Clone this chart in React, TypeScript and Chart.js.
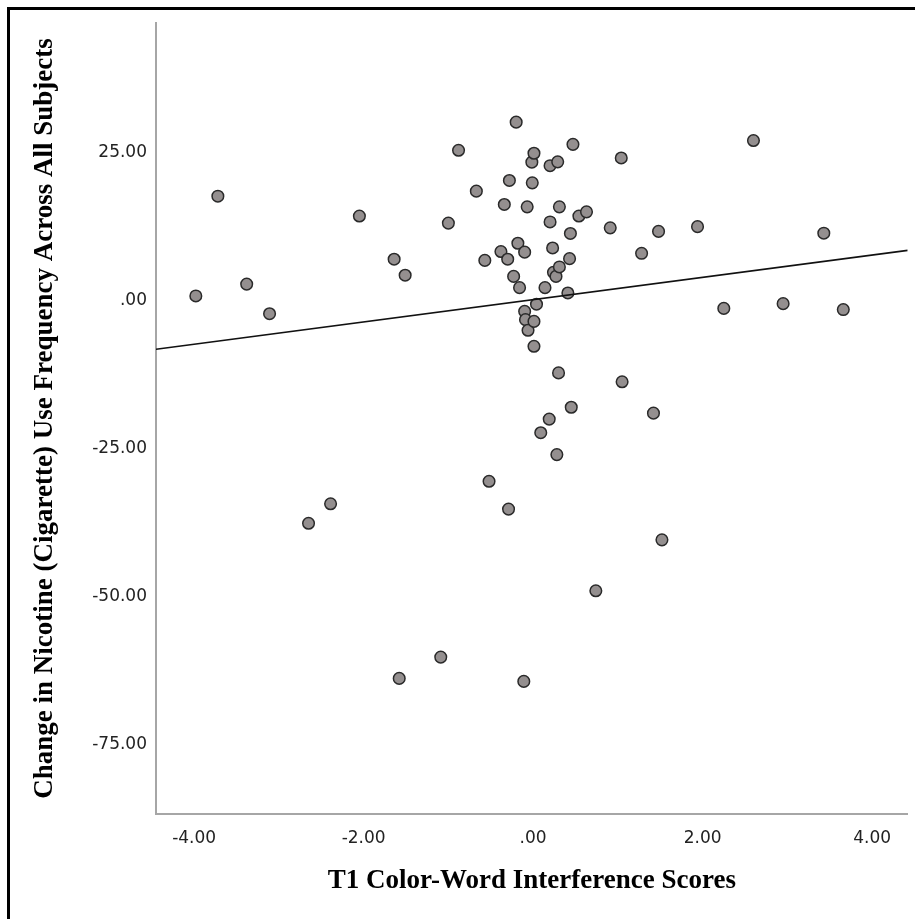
import React, { useEffect, useRef } from 'react';
import { Chart, registerables } from 'chart.js';

Chart.register(...registerables);

// T1 Color-Word Interference Scores (x) and change in nicotine use (y)
const interferenceScores = [
  -3.98, -3.72, -3.38, -3.11, -2.65, -2.39, -2.05, -1.64, -1.58, -1.51,
  -1.09, -1.0, -0.88, -0.67, -0.57, -0.52, -0.38, -0.34, -0.3, -0.29,
  -0.28, -0.23, -0.2, -0.18, -0.16, -0.11, -0.1, -0.1, -0.09, -0.07,
  -0.06, -0.015, -0.01, 0.01, 0.01, 0.01, 0.04, 0.09, 0.14, 0.19,
  0.2, 0.2, 0.23, 0.24, 0.27, 0.28, 0.29, 0.3, 0.31, 0.31,
  0.41, 0.43, 0.44, 0.45, 0.47, 0.54, 0.63, 0.74, 0.91, 1.04,
  1.05, 1.28, 1.42, 1.48, 1.52, 1.94, 2.25, 2.6, 2.95, 3.43, 3.66,
];
const nicotineChange = [
  0.8, 17.65, 2.8, -2.2, -37.6, -34.3, 14.3, 7.0, -63.8, 4.3,
  -60.2, 13.1, 25.4, 18.5, 6.8, -30.5, 8.3, 16.25, 7.0, -35.2,
  20.3, 4.1, 30.15, 9.7, 2.2, -64.3, 8.2, -1.8, -3.2, 15.85,
  -5.0, 23.4, 19.9, 24.9, -3.5, -7.7, -0.6, -22.3, 2.2, -20.0,
  22.8, 13.3, 8.9, 4.8, 4.1, -26.0, 23.45, -12.2, 15.85, 5.7,
  1.3, 7.1, 11.35, -18.0, 26.4, 14.3, 15.0, -49.0, 12.3, 24.1,
  -13.7, 8.0, -19.0, 11.7, -40.4, 12.5, -1.3, 27.05, -0.5, 11.4, -1.5,
];

// Fit line end points (at the x axis limits)
const fitLineX = [-4.45, 4.42];
const fitLineY = [-8.2, 8.5];

const xTickValues = [-4, -2, 0, 2, 4];
const yTickValues = [25, 0, -25, -50, -75];
const xRange = [-4.45, 4.42];
const yRange = [-86.7, 46.9];

const xTitle = 'T1 Color-Word Interference Scores';
const yTitle = 'Change in Nicotine (Cigarette) Use Frequency Across All Subjects';

const fmt = (v: number) => (v === 0 ? '.00' : v.toFixed(2));

export default function App() {
  const ref = useRef<HTMLCanvasElement | null>(null);

  useEffect(() => {
    if (!ref.current) return;
    const points = interferenceScores.map((x, i) => ({ x, y: nicotineChange[i] }));
    const fit = fitLineX.map((x, i) => ({ x, y: fitLineY[i] }));
    const tickFont = { family: 'DejaVu Sans', size: 17 };
    const titleFont = { family: 'Liberation Serif', size: 27, weight: 'bold' as const };
    const chart = new Chart(ref.current, {
      type: 'scatter',
      data: {
        datasets: [
          {
            label: 'Fit',
            data: fit,
            showLine: true,
            borderColor: '#111111',
            borderWidth: 1.6,
            pointRadius: 0,
            order: 0,
          } as any,
          {
            label: 'Subjects',
            data: points,
            backgroundColor: '#948f8f',
            borderColor: '#2a2a2a',
            borderWidth: 1.5,
            pointRadius: 5.8,
            order: 1,
          },
        ],
      },
      options: {
        responsive: false,
        animation: false,
        layout: { padding: { left: 0, top: 23, right: 3, bottom: 0 } },
        plugins: { legend: { display: false }, tooltip: { enabled: false } },
        scales: {
          x: {
            type: 'linear',
            min: xRange[0],
            max: xRange[1],
            grid: { display: false, drawTicks: false },
            border: { display: true, color: '#a6a6a6', width: 2 },
            ticks: { font: tickFont, color: '#222222', padding: 14, callback: (v: any) => fmt(Number(v)) },
            afterBuildTicks: (s: any) => {
              s.ticks = xTickValues.map((value) => ({ value }));
            },
            afterFit: (s: any) => {
              s.height = 105;
            },
            title: { display: true, text: xTitle, font: titleFont, color: '#000000', padding: { top: 0, bottom: 22 } },
          },
          y: {
            type: 'linear',
            min: yRange[0],
            max: yRange[1],
            grid: { display: false, drawTicks: false },
            border: { display: true, color: '#a6a6a6', width: 2 },
            ticks: { font: tickFont, color: '#222222', padding: 9, callback: (v: any) => fmt(Number(v)) },
            afterBuildTicks: (s: any) => {
              s.ticks = yTickValues.map((value) => ({ value }));
            },
            afterFit: (s: any) => {
              s.width = 156;
            },
            title: { display: true, text: yTitle, font: titleFont, color: '#000000', padding: { top: 29, bottom: 0 } },
          },
        },
      },
    });
    return () => chart.destroy();
  }, []);

  return (
    <div>
      <div
        style={{
          position: 'fixed',
          left: 7,
          top: 7,
          width: 915,
          height: 919,
          borderTop: '3px solid #000',
          borderLeft: '3px solid #000',
          boxSizing: 'border-box',
        }}
      />
      <canvas
        ref={ref}
        width={915}
        height={919}
        style={{ position: 'fixed', left: 0, top: 0, width: 915, height: 919 }}
      />
    </div>
  );
}
